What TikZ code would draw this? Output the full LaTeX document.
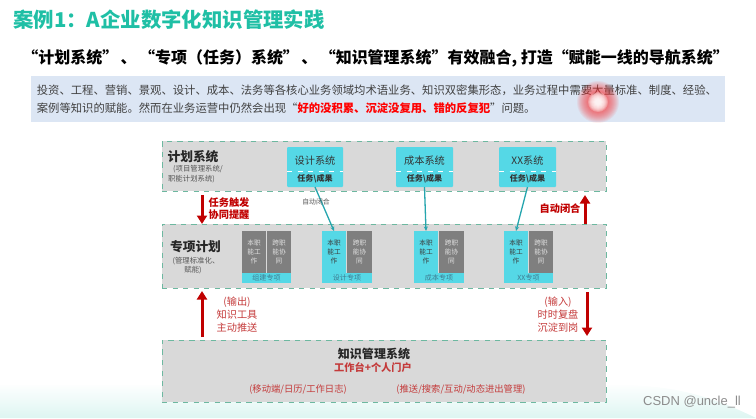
\documentclass[tikz,border=0pt]{standalone}
\usepackage{fontspec}
\setmainfont{Noto Sans CJK SC}
\newfontfamily\markfont{Liberation Sans}
\usetikzlibrary{arrows.meta}
\definecolor{titlegreen}{HTML}{1FBFA5}
\definecolor{bandblue}{HTML}{DCE6F4}
\definecolor{bandgray}{HTML}{D9D9D9}
\definecolor{dashgreen}{HTML}{6DB8A0}
\definecolor{boxcyan}{HTML}{55D8E6}
\definecolor{cellgray}{HTML}{7F7F7F}
\definecolor{linkteal}{HTML}{25A5AE}
\definecolor{darkred}{HTML}{C00000}
\definecolor{softred}{HTML}{C43A3A}
\definecolor{softtext}{HTML}{555555}
\definecolor{bartext}{HTML}{3F7C92}
\tikzset{
  band/.style={draw=dashgreen,fill=bandgray,dashed,line width=0.016cm,inner sep=0,outer sep=0},
  sysbox/.style={fill=boxcyan,rounded corners=0.02cm,inner sep=0,outer sep=0,minimum height=0.80cm},
  graycell/.style={fill=cellgray,text=white!88!black,inner sep=0,outer sep=0,minimum width=0.48cm,minimum height=0.84cm,align=center,font=\fontsize{3.8pt}{5pt}\selectfont},
  cyancell/.style={fill=boxcyan,text=softtext!70!black,inner sep=0,outer sep=0,minimum width=0.48cm,minimum height=0.84cm,align=center,font=\fontsize{3.8pt}{5pt}\selectfont},
  barbox/.style={fill=boxcyan,text=bartext,inner sep=0,outer sep=0,minimum height=0.20cm,font=\fontsize{4pt}{5pt}\selectfont},
  syslabel/.style={inner sep=0,font=\fontsize{5.8pt}{7pt}\selectfont,text=black!80},
  taskslabel/.style={inner sep=0,font=\fontsize{4.6pt}{6pt}\bfseries\selectfont,text=black!80},
  headlabel/.style={inner sep=0,font=\fontsize{7.25pt}{9pt}\bfseries\selectfont,text=black!85},
  sublabel/.style={inner sep=0,font=\fontsize{4.2pt}{5pt}\selectfont,text=softtext},
  redlabel/.style={inner sep=0,align=center,font=\fontsize{5.8pt}{6.9pt}\bfseries\selectfont,text=darkred},
  softlabel/.style={inner sep=0,align=center,font=\fontsize{5.8pt}{7.4pt}\selectfont,text=softred},
  footlabel/.style={inner sep=0,font=\fontsize{5.3pt}{6pt}\selectfont,text=softred},
  paratext/.style={inner sep=0,anchor=west,font=\fontsize{6.45pt}{8pt}\selectfont,text=black!75},
  linkline/.style={draw=linkteal,line width=0.026cm,-{Stealth[length=0.09cm,width=0.08cm]}},
  redarrow/.style={draw=darkred,line width=0.06cm,-{Triangle[length=0.17cm,width=0.2cm]}},
}
\begin{document}
\begin{tikzpicture}
\useasboundingbox (0,0) rectangle (15.120000,8.360000);%

% Drawing pale hill at the bottom
\shade [top color=white,bottom color=titlegreen!15] (0,0) -- (0,0.660000) -- (12.000000,0.660000) .. controls (13.400000,0.700000) and (14.200000,0.450000) .. (15.120000,0) -- cycle;%

% Marking title lines
\node [inner sep=0,anchor=west,text=titlegreen,font=\fontsize{11.6pt}{14pt}\bfseries\selectfont] (title) at (0.260000,7.960000) {案例1：A企业数字化知识管理实践};%
\node [inner sep=0,anchor=west,text=black,font=\fontsize{9.1pt}{11pt}\bfseries\selectfont] (subtitle) at (0.440000,7.200000) {“计划系统”\hspace{0.15em}、\hspace{0.15em}“专项（任务）系统”\hspace{0.15em}、\hspace{0.15em}“知识管理系统”有效融合, 打造“赋能一线的导航系统”};%

% Drawing intro band
\node [fill=bandblue,inner sep=0,outer sep=0,minimum width=13.880000cm,minimum height=0.920000cm] (introband) at (7.560000,6.380000) {};%
\node [paratext] (introone) at (0.730000,6.560000) {投资、工程、营销、景观、设计、成本、法务等各核心业务领域均术语业务、知识双密集形态，业务过程中需要大量标准、制度、经验、};%
\node [paratext] (introtwo) at (0.730000,6.200000) {案例等知识的赋能。然而在业务运营中仍然会出现“\textcolor{red}{\bfseries 好的没积累、沉淀没复用、错的反复犯}”问题。};%

% Drawing pointer glow
\foreach \r in {0.42,0.40,...,0.10} {\fill [red!85,opacity=0.07] (11.960000,6.320000) circle (\r);}%
\foreach \r in {0.20,0.18,...,0.04} {\fill [white,opacity=0.28] (11.960000,6.320000) circle (\r);}%

% Drawing the three grey bands
\node [band,minimum width=8.880000cm,minimum height=1.000000cm] (planband) at (7.680000,5.040000) {};%
\node [band,minimum width=8.880000cm,minimum height=1.280000cm] (specband) at (7.680000,3.240000) {};%
\node [band,minimum width=8.880000cm,minimum height=1.240000cm] (kmband) at (7.680000,0.940000) {};%

% Marking plan band labels
\node [headlabel] (planhead) at (3.860000,5.220000) {计划系统};%
\node [sublabel] (plansubone) at (3.960000,4.980000) {(项目管理系统/};%
\node [sublabel] (plansubtwo) at (3.830000,4.780000) {职能计划系统)};%

% Drawing system boxes
\node [sysbox,minimum width=1.120000cm] (designsys) at (6.300000,5.020000) {};%
\node [sysbox,minimum width=1.140000cm] (costsys) at (8.490000,5.020000) {};%
\node [sysbox,minimum width=1.140000cm] (xxsys) at (10.550000,5.020000) {};%
\draw [white,dashed,line width=0.016cm] (5.740000,4.940000) -- (6.860000,4.940000);%
\draw [white,dashed,line width=0.016cm] (7.920000,4.940000) -- (9.060000,4.940000);%
\draw [white,dashed,line width=0.016cm] (9.980000,4.940000) -- (11.120000,4.940000);%
\node [syslabel] (designname) at (6.300000,5.140000) {设计系统};%
\node [syslabel] (costname) at (8.490000,5.140000) {成本系统};%
\node [syslabel] (xxname) at (10.550000,5.140000) {XX系统};%
\node [taskslabel] (designtask) at (6.300000,4.780000) {任务\textbackslash 成果};%
\node [taskslabel] (costtask) at (8.490000,4.780000) {任务\textbackslash 成果};%
\node [taskslabel] (xxtask) at (10.550000,4.780000) {任务\textbackslash 成果};%

% Marking spec band labels
\node [headlabel] (spechead) at (3.910000,3.420000) {专项计划};%
\node [sublabel] (specsubone) at (3.920000,3.140000) {(管理标准化、};%
\node [sublabel] (specsubtwo) at (3.860000,2.960000) {赋能)};%

% Drawing group of cells: build
\node [barbox,minimum width=0.980000cm] (buildbar) at (5.330000,2.800000) {组建专项};%
\node [graycell] (buildwork) at (5.080000,3.320000) {本职\\能工\\作};%
\node [graycell] (buildcross) at (5.580000,3.320000) {跨职\\能协\\同};%

% Drawing group of cells: design
\node [barbox,minimum width=1.000000cm] (designbar) at (6.940000,2.800000) {设计专项};%
\node [cyancell] (designwork) at (6.680000,3.320000) {本职\\能工\\作};%
\node [graycell,minimum width=0.500000cm] (designcross) at (7.190000,3.320000) {跨职\\能协\\同};%

% Drawing group of cells: cost
\node [barbox,minimum width=1.000000cm] (costbar) at (8.780000,2.800000) {成本专项};%
\node [cyancell] (costwork) at (8.520000,3.320000) {本职\\能工\\作};%
\node [graycell,minimum width=0.500000cm] (costcross) at (9.030000,3.320000) {跨职\\能协\\同};%

% Drawing group of cells: xx
\node [barbox,minimum width=0.980000cm] (xxbar) at (10.570000,2.800000) {XX专项};%
\node [cyancell] (xxwork) at (10.320000,3.320000) {本职\\能工\\作};%
\node [graycell] (xxcross) at (10.820000,3.320000) {跨职\\能协\\同};%

% Drawing links from systems to cells
\draw [linkline] (designsys.south) -- (designwork.north);%
\draw [linkline] (costsys.south) -- (costwork.north);%
\draw [linkline] (xxsys.south) -- (xxwork.north);%

% Marking label between plan and spec
\node [redlabel] (triggerlabel) at (4.580000,4.180000) {任务触发\\协同提醒};%
\node [sublabel,font=\fontsize{3.9pt}{5pt}\selectfont] (autonote) at (6.320000,4.320000) {自动闭合};%
\node [redlabel] (closelabel) at (11.200000,4.180000) {自动闭合};%

% Drawing red arrows
\coordinate (downa) at (4.040000,4.460000);%
\coordinate (downb) at (4.040000,3.880000);%
\coordinate (upa) at (11.700000,3.880000);%
\coordinate (upb) at (11.700000,4.460000);%
\coordinate (outa) at (4.040000,1.620000);%
\coordinate (outb) at (4.040000,2.540000);%
\coordinate (ina) at (11.740000,2.520000);%
\coordinate (inb) at (11.740000,1.640000);%
\draw [redarrow] (downa) -- (downb);%
\draw [redarrow] (upa) -- (upb);%
\draw [redarrow] (outa) -- (outb);%
\draw [redarrow] (ina) -- (inb);%

% Marking labels between spec and knowledge
\node [softlabel] (outlabel) at (4.740000,2.060000) {(输出)\\知识工具\\主动推送};%
\node [softlabel] (inlabel) at (11.160000,2.060000) {(输入)\\时时复盘\\沉淀到岗};%

% Marking knowledge band labels
\node [inner sep=0,font=\fontsize{6.83pt}{8pt}\bfseries\selectfont,text=black!85] (kmhead) at (7.480000,1.280000) {知识管理系统};%
\node [redlabel,text=softred] (kmportal) at (7.460000,1.000000) {工作台+个人门户};%
\node [footlabel] (kmleft) at (5.960000,0.580000) {(移动端/日历/工作日志)};%
\node [footlabel] (kmright) at (9.220000,0.580000) {(推送/搜索/互动/动态进出管理)};%

% Marking watermark
\node [inner sep=0,text=black!45,font=\markfont\fontsize{7.4pt}{9pt}\selectfont] (watermark) at (13.840000,0.320000) {CSDN @uncle\_ll};%
\end{tikzpicture}
\end{document}
